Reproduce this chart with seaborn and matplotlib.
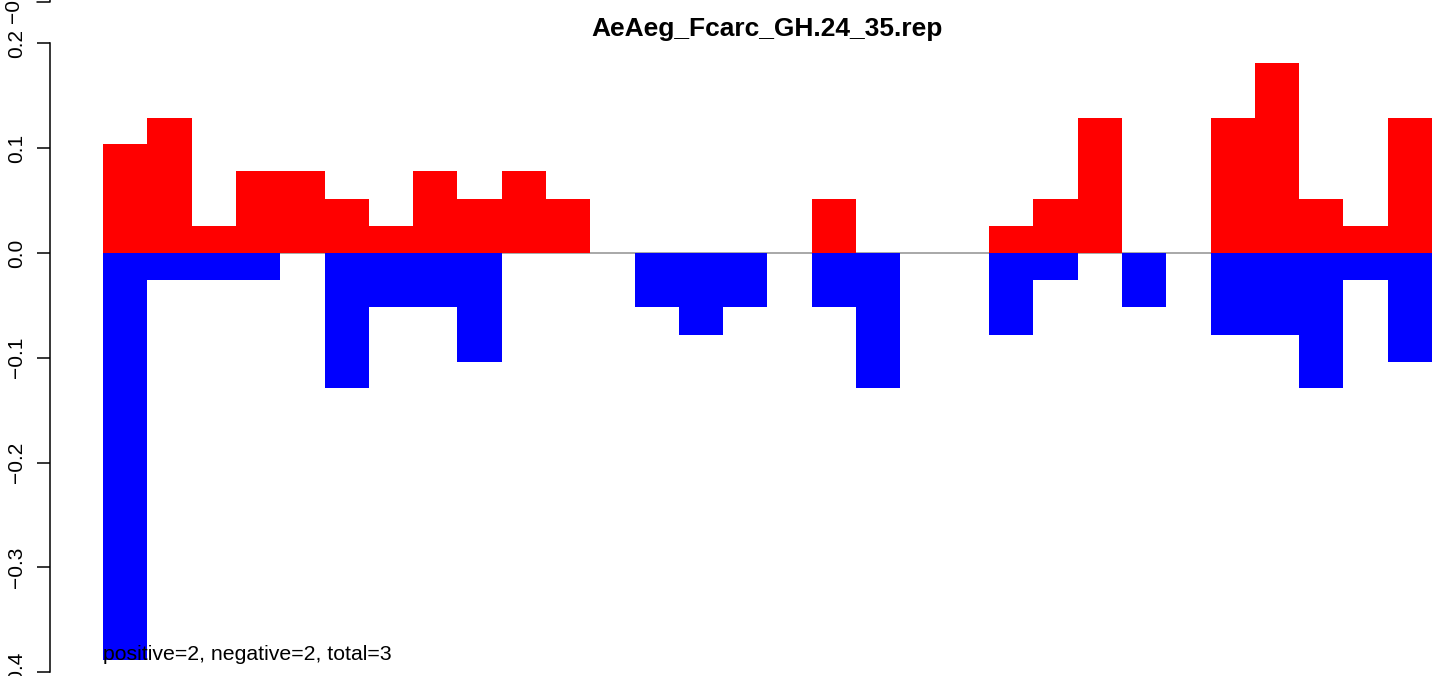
import numpy as np
import matplotlib
matplotlib.use("Agg")
import matplotlib.pyplot as plt
import pandas as pd
import seaborn as sns

# values
title = "AeAeg_Fcarc_GH.24_35.rep"
note = "positive=2, negative=2, total=3"
pos_vals = [0.104, 0.129, 0.026, 0.078, 0.078, 0.052, 0.026, 0.078, 0.052, 0.078,
            0.052, 0, 0, 0, 0, 0, 0.052, 0, 0, 0,
            0.026, 0.052, 0.129, 0, 0, 0.129, 0.181, 0.052, 0.026, 0.129]
neg_vals = [-0.388, -0.026, -0.026, -0.026, 0, -0.129, -0.052, -0.052, -0.104, 0,
            0, 0, -0.052, -0.078, -0.052, 0, -0.052, -0.129, 0, 0,
            -0.078, -0.026, 0, -0.052, 0, -0.078, -0.078, -0.129, -0.026, -0.104]
y_ticks = [-0.4, -0.3, -0.2, -0.1, 0.0, 0.1, 0.2]

df = pd.DataFrame({"pos": range(len(pos_vals)), "up": pos_vals, "down": neg_vals})

sns.set_style("white")
plt.rcParams['font.family'] = ['Liberation Sans', 'DejaVu Sans']
plt.rcParams['text.color'] = 'black'
plt.rcParams['ytick.color'] = 'black'

W, H = 1441, 676
fig = plt.figure(figsize=(W / 100, H / 100), dpi=100)
ax = fig.add_axes([103 / W, 0, (1432 - 103) / W, 1])

ax.axhline(0, color='#999999', lw=1.2, zorder=0)
sns.barplot(data=df, x="pos", y="up", color='#ff0000', width=1, saturation=1,
            linewidth=0, ax=ax, zorder=2)
sns.barplot(data=df, x="pos", y="down", color='#0000ff', width=1, saturation=1,
            linewidth=0, ax=ax, zorder=2)

ax.set_xlim(-0.5, len(pos_vals) - 0.5)
ax.set_ylim(-(H - 253) / 1048, 253 / 1048)
ax.set_xlabel("")
ax.set_ylabel("")
ax.set_xticks([])
for s in ['top', 'right', 'bottom']:
    ax.spines[s].set_visible(False)
ax.spines['left'].set_position(('outward', 53 * 0.72))
ax.spines['left'].set_bounds(-0.4, 0.2)
ax.spines['left'].set_linewidth(1.1)
ax.spines['left'].set_color('black')
ax.tick_params(axis='y', direction='out', length=9.4, width=1.1, pad=8,
               labelsize=15, colors='black', left=True)
ax.set_yticks(y_ticks)
ax.set_yticklabels([f"{v:.1f}".replace("-", "\u2212") for v in y_ticks])
for lab in ax.get_yticklabels():
    lab.set_rotation(90)
    lab.set_va('center')
    lab.set_color('black')

ax.text(-0.5, min(neg_vals), note, fontsize=15.3, ha='left', va='baseline',
        color='black', zorder=5)

fig.text(767.5 / W, 1 - 29 / H, title, fontsize=19, fontweight='bold',
         ha='center', va='center', color='black')

# leftover axis piece from the panel above, cut at the top edge
fig.add_artist(plt.Line2D([37 / W, 50 / W, 50 / W], [1 - 2 / H, 1 - 2 / H, 1.0],
                          transform=fig.transFigure, color='black', lw=1.1))
fig.text(14 / W, 1 - 2 / H, "\u22120.4", fontsize=15, rotation=90,
         ha='center', va='center', color='black')

fig.savefig("out.png", dpi=100)
